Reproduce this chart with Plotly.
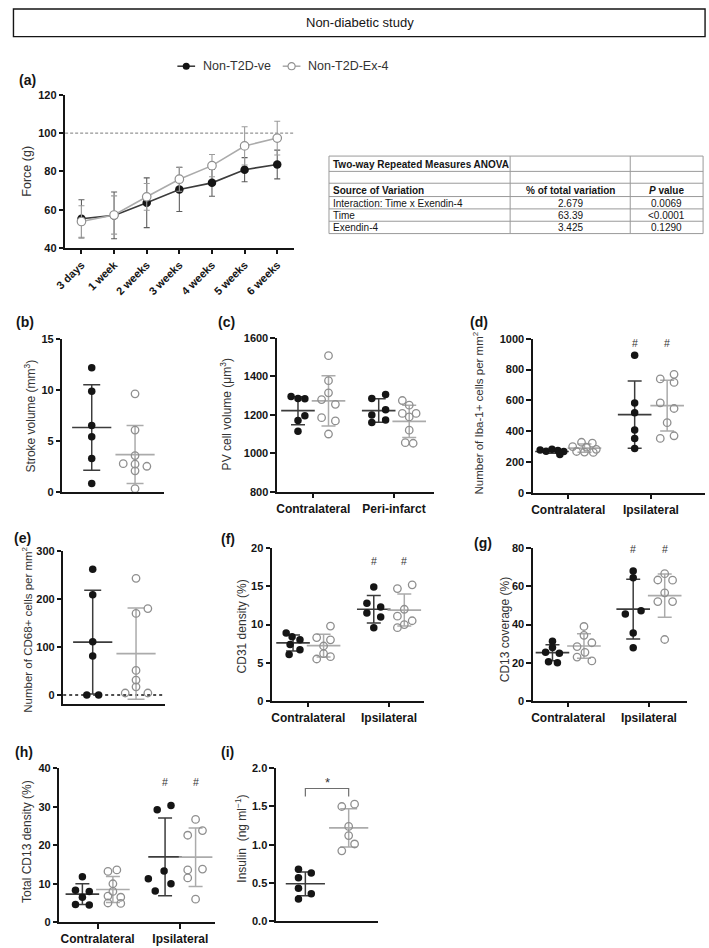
import plotly.graph_objects as go

W, H = 709, 948
FONT = "Arial, 'Liberation Sans', Helvetica, sans-serif"
BLACK = "#151515"
VE_LINE = "#3c3c3c"
EX_MK = "#8f8f8f"
EX_LINE = "#ababab"
TITLE_COL = "#333333"
GRID_COL = "#9a9a9a"

# ---------------- data ----------------
# (a) force over time
time_labels = ["3 days", "1 week", "2 weeks", "3 weeks", "4 weeks", "5 weeks", "6 weeks"]
force_ve_mean = [55.2, 57.0, 63.6, 70.5, 74.0, 80.9, 83.6]
force_ve_sd = [10.0, 12.2, 13.0, 11.5, 7.0, 6.3, 7.5]
force_ex_mean = [53.8, 57.2, 66.7, 75.9, 83.0, 93.3, 97.4]
force_ex_sd = [8.2, 10.0, 7.0, 6.3, 5.8, 10.0, 8.8]
force_baseline = 100
legend_names = ["Non-T2D-ve", "Non-T2D-Ex-4"]

# ANOVA table
anova_title = "Two-way Repeated Measures ANOVA"
anova_header = ["Source of Variation", "% of total variation", "<i>P</i> value"]
anova_source = ["Interaction: Time x Exendin-4", "Time", "Exendin-4"]
anova_pct = ["2.679", "63.39", "3.425"]
anova_p = ["0.0069", "<0.0001", "0.1290"]

# (b) stroke volume
stroke_ve = [12.15, 9.85, 6.5, 5.4, 3.25, 0.8]
stroke_ex = [9.6, 6.05, 3.55, 2.75, 2.7, 2.5, 2.05, 0.3]
stroke_mean = [6.3, 3.65]
stroke_sd = [4.2, 2.85]

# (c) PV cell volume
pv_ve_contra = [1295, 1285, 1283, 1195, 1170, 1115]
pv_ex_contra = [1507, 1377, 1314, 1279, 1254, 1185, 1168, 1100]
pv_ve_peri = [1305, 1285, 1226, 1199, 1173, 1160]
pv_ex_peri = [1274, 1250, 1207, 1207, 1189, 1120, 1055, 1052]
pv_ve_mean = [1221, 1222]
pv_ve_sd = [73, 61]
pv_ex_mean = [1272, 1166]
pv_ex_sd = [130, 84]

# (d) Iba-1+ cells
iba_ve_contra = [278, 270, 282, 275, 268, 248]
iba_ex_contra = [328, 322, 300, 296, 282, 268, 264, 262]
iba_ve_ipsi = [893, 583, 519, 408, 353, 288]
iba_ex_ipsi = [769, 739, 716, 583, 547, 455, 370, 353]
iba_ve_mean = [268, 507]
iba_ve_sd = [12, 218]
iba_ex_mean = [290, 566]
iba_ex_sd = [27, 165]

# (e) CD68+ cells
cd68_ve = [262, 209, 111, 81, 0, 0]
cd68_ex = [243, 180, 170, 51, 31, 17, 4, 4]
cd68_mean = [110, 86]
cd68_sd = [108, 95]

# (f) CD31 density
cd31_ve_contra = [8.9, 8.4, 8.0, 7.4, 6.7, 6.1]
cd31_ex_contra = [9.8, 8.3, 8.0, 7.2, 6.2, 5.8, 5.5]
cd31_ve_ipsi = [14.9, 12.8, 12.3, 11.5, 11.0, 9.6]
cd31_ex_ipsi = [15.2, 14.7, 12.0, 11.1, 10.5, 10.0, 9.6]
cd31_ve_mean = [7.6, 12.0]
cd31_ve_sd = [1.05, 1.8]
cd31_ex_mean = [7.25, 11.9]
cd31_ex_sd = [1.5, 2.1]

# (g) CD13 coverage
cov_ve_contra = [31.3, 28.0, 25.5, 25.0, 20.5, 20.0]
cov_ex_contra = [39.0, 34.4, 30.5, 28.5, 25.5, 23.0, 21.0]
cov_ve_ipsi = [68.0, 64.5, 47.2, 45.5, 35.6, 27.9]
cov_ex_ipsi = [66.6, 63.3, 63.2, 56.6, 52.0, 52.0, 32.2]
cov_ve_mean = [25.3, 48.1]
cov_ve_sd = [4.2, 15.6]
cov_ex_mean = [28.8, 55.1]
cov_ex_sd = [6.4, 11.3]

# (h) total CD13 density
tot_ve_contra = [11.8, 8.3, 8.0, 6.5, 4.6, 4.5]
tot_ex_contra = [13.6, 13.2, 10.0, 8.0, 6.8, 6.5, 5.0, 4.9]
tot_ve_ipsi = [30.3, 29.2, 13.3, 11.3, 10.0, 8.1]
tot_ex_ipsi = [26.7, 23.8, 22.6, 13.8, 13.6, 11.5, 6.0]
tot_ve_mean = [7.3, 17.0]
tot_ve_sd = [2.7, 10.1]
tot_ex_mean = [8.5, 16.9]
tot_ex_sd = [3.4, 7.6]

# (i) insulin
ins_ve = [0.68, 0.63, 0.57, 0.43, 0.36, 0.29]
ins_ex = [1.53, 1.50, 1.24, 1.12, 1.01, 0.92]
ins_mean = [0.49, 1.22]
ins_sd = [0.155, 0.25]


# ---------------- layout helpers (pixels -> paper) ----------------
def X(px):
    return min(1.0, max(0.0, px / W))


def Y(py):
    return min(1.0, max(0.0, 1 - py / H))


PANELS = {
    "a": dict(n=1, xpx=(55, 287), ypx=(90, 245), yr=(40, 120), dtick=20),
    "b": dict(n=2, xpx=(52, 155), ypx=(337, 492), yr=(0, 15), dtick=5, cx=(82, 126)),
    "c": dict(n=3, xpx=(270, 430), ypx=(336, 492), yr=(800, 1600), dtick=200, cx=(307, 389), off=15.5,
              cats=["Contralateral", "Peri-infarct"]),
    "d": dict(n=4, xpx=(530, 705), ypx=(337, 493), yr=(0, 1000), dtick=200, cx=(566, 650), off=16.5,
              cats=["Contralateral", "Ipsilateral"]),
    "e": dict(n=5, xpx=(53, 156), ypx=(552, 707), yr=(-19, 300), dtick=100, cx=(83, 127)),
    "f": dict(n=6, xpx=(265, 420), ypx=(549, 704), yr=(0, 20), dtick=5, cx=(302, 384), off=15.5,
              cats=["Contralateral", "Ipsilateral"]),
    "g": dict(n=7, xpx=(530, 687), ypx=(549, 704), yr=(0, 80), dtick=20, cx=(566, 648), off=16,
              cats=["Contralateral", "Ipsilateral"]),
    "h": dict(n=8, xpx=(49, 207), ypx=(772, 928), yr=(0, 40), dtick=10, cx=(88, 172), off=15.5,
              cats=["Contralateral", "Ipsilateral"]),
    "i": dict(n=9, xpx=(269, 373), ypx=(772, 927), yr=(0, 2.0), dtick=0.5, cx=(299, 343)),
}

# beeswarm-style horizontal offsets (px) for individual points
JIT = {
    "b": ([0, 0, 0, 0, 0, 0], [0, 0, 0, -12, 0, 12, 0, 0]),
    "c": ([-7, 0, 7, 7, 0, 0], [0, 0, 0, -7, 7, -7, 7, 0],
          [7, -7, 7, -7, 7, -7], [-7, 0, -7, 7, 0, 0, -4, 4]),
    "d": ([-12, -6, 0, 6, 12, 8], [-3, 8, -12, 2, 12, -8, 0, 9],
          [0, 0, 0, 0, 0, 0], [7, -7, 7, -7, 7, 0, 7, -7]),
    "e": ([0, 0, 0, 0, -6, 6], [0, 12, 0, 0, 0, 0, -11, 12]),
    "f": ([-7, -1, 7, -3, 7, -4], [7, -7, 7, 0, 0, 7, -7],
          [0, -7, 7, -7, 7, 0], [8, -7, 0, -7, 8, 0, -7]),
    "g": ([0, 0, -7, 7, -4, 5], [0, 0, 8, -7, 1, -7, 8],
          [0, 0, 8, -8, 0, 0], [0, -7, 8, 0, -7, 8, 0]),
    "h": ([0, -7, 7, 0, -7, 7], [4, -5, 0, 0, -5, 8, -5, 8],
          [6, -8, -1, -17, 6, -10], [0, 7, -8, 7, -8, -8, 0]),
    "i": ([-7, 6, -7, -7, 6, -7], [6, -7, 0, 0, 6, -7]),
}

fig = go.Figure()
layout = dict(
    width=W, height=H, margin=dict(l=0, r=0, t=0, b=0, pad=0),
    paper_bgcolor="white", plot_bgcolor="rgba(0,0,0,0)",
    font=dict(family=FONT, color=BLACK, size=12),
    showlegend=False,
)
annotations = []
shapes = []

TICKFONT = dict(family=FONT, size=11, color=BLACK, weight="bold")
CATFONT = dict(family=FONT, size=12, color=BLACK, weight="bold")
AX = dict(showline=True, linecolor=BLACK, linewidth=1.7, showgrid=False, zeroline=False,
          ticks="outside", ticklen=4.5, tickwidth=1.5, tickcolor=BLACK, tickfont=TICKFONT)


def refs(n):
    return ("x" if n == 1 else f"x{n}"), ("y" if n == 1 else f"y{n}")


def xrange_for(p):
    c1, c2 = p["cx"]
    unit = c2 - c1
    return [1 - (c1 - p["xpx"][0]) / unit, 2 + (p["xpx"][1] - c2) / unit], unit


for key, p in PANELS.items():
    n = p["n"]
    xr, yr_ = refs(n)
    xname = "xaxis" if n == 1 else f"xaxis{n}"
    yname = "yaxis" if n == 1 else f"yaxis{n}"
    ydict = dict(AX, domain=[Y(p["ypx"][1]), Y(p["ypx"][0])], anchor=xr, range=list(p["yr"]),
                 tickmode="linear", tick0=0, dtick=p["dtick"])
    if key == "i":
        ydict["tickformat"] = ".1f"
    if key == "a":
        xdict = dict(AX, domain=[X(p["xpx"][0]), X(p["xpx"][1])], anchor=yr_, type="category",
                     range=[-0.5, 6.5], tickangle=-45, tickfont=dict(TICKFONT, size=11))
    else:
        rng, unit = xrange_for(p)
        p["unit"] = unit
        xdict = dict(AX, domain=[X(p["xpx"][0]), X(p["xpx"][1])], anchor=yr_, range=rng)
        if "cats" in p:
            xdict.update(tickmode="array", tickvals=[1, 2], ticktext=p["cats"], tickfont=CATFONT)
        else:
            xdict.update(ticks="", showticklabels=False)
    layout[xname] = xdict
    layout[yname] = ydict

# ---------------- panel (a) ----------------
fig.add_trace(go.Scatter(
    x=time_labels, y=force_ve_mean, name=legend_names[0], mode="lines+markers",
    line=dict(color=VE_LINE, width=1.6),
    marker=dict(symbol="circle", size=8.5, color=BLACK, line=dict(width=0)),
    error_y=dict(type="data", array=force_ve_sd, color="#5e5e5e", thickness=1.1, width=3),
    xaxis="x", yaxis="y", cliponaxis=False))
fig.add_trace(go.Scatter(
    x=time_labels, y=force_ex_mean, name=legend_names[1], mode="lines+markers",
    line=dict(color=EX_LINE, width=1.6),
    marker=dict(symbol="circle", size=8.5, color="white", line=dict(width=1.2, color=EX_MK)),
    error_y=dict(type="data", array=force_ex_sd, color="#9c9c9c", thickness=1.1, width=3),
    xaxis="x", yaxis="y", cliponaxis=False))
shapes.append(dict(type="line", xref="x domain", yref="y", x0=0, x1=1, y0=force_baseline,
                   y1=force_baseline, line=dict(color="#7a7a7a", width=1, dash="3px,2px"), layer="below"))

# ---------------- legend (drawn) ----------------
LEG_Y = 61
for (lx, name, filled) in [(178, legend_names[0], True), (285, legend_names[1], False)]:
    shapes.append(dict(type="line", xref="paper", yref="paper", x0=X(lx - 9), x1=X(lx + 9),
                       y0=Y(LEG_Y), y1=Y(LEG_Y),
                       line=dict(color=VE_LINE if filled else EX_LINE, width=1.6)))
    r = 3.6
    shapes.append(dict(type="circle", xref="paper", yref="paper", x0=X(lx - r), x1=X(lx + r),
                       y0=Y(LEG_Y + r), y1=Y(LEG_Y - r),
                       fillcolor=BLACK if filled else "white",
                       line=dict(color=BLACK if filled else EX_MK, width=0 if filled else 1.1)))
    annotations.append(dict(x=X(lx + 15), y=Y(LEG_Y), xref="paper", yref="paper", text=name,
                            showarrow=False, xanchor="left", yanchor="middle",
                            font=dict(size=12.5, color=TITLE_COL)))

# ---------------- ANOVA table (drawn) ----------------
TX = [323, 507, 629, 703]
TY = [152, 167.5, 179.5, 193, 205.5, 218, 230.5]
for xv in TX:
    shapes.append(dict(type="line", xref="paper", yref="paper", x0=X(xv), x1=X(xv), y0=Y(TY[0]), y1=Y(TY[-1]),
                       line=dict(color=GRID_COL, width=1)))
for yv in TY:
    shapes.append(dict(type="line", xref="paper", yref="paper", x0=X(TX[0]), x1=X(TX[-1]), y0=Y(yv), y1=Y(yv),
                       line=dict(color=GRID_COL, width=1)))
rows = [[f"<b>{anova_title}</b>", "", ""], ["", "", ""],
        [f"<b>{h}</b>" for h in anova_header]] + \
       [[s, pct, pv.replace("<", "&lt;")] for s, pct, pv in zip(anova_source, anova_pct, anova_p)]
for ri, row in enumerate(rows):
    yc = (TY[ri] + TY[ri + 1]) / 2
    for ci, txt in enumerate(row):
        if not txt:
            continue
        if ci == 0:
            xa, anc = TX[0] + 2.5, "left"
        else:
            xa, anc = (TX[ci] + TX[ci + 1]) / 2, "center"
        annotations.append(dict(x=X(xa), y=Y(yc + 0.5), xref="paper", yref="paper", text=txt,
                                showarrow=False, xanchor=anc, yanchor="middle",
                                font=dict(size=10, color=BLACK)))


# ---------------- scatter helpers ----------------
def add_group(key, pos, vals, dxs, mean, sd, filled, mean_w=24, cap=7):
    p = PANELS[key]
    xr, yr_ = refs(p["n"])
    unit = p["unit"]
    lc = VE_LINE if filled else EX_LINE
    fig.add_trace(go.Scatter(
        x=[pos], y=[mean], mode="markers", hoverinfo="skip",
        marker=dict(symbol="line-ew", size=mean_w, color=lc, line=dict(width=1.7, color=lc)),
        error_y=dict(type="data", array=[sd], color=lc, thickness=1.5, width=cap),
        xaxis=xr, yaxis=yr_, cliponaxis=False))
    xs = [pos + d / unit for d in dxs]
    if filled:
        mk = dict(symbol="circle", size=7.5, color=BLACK, line=dict(width=0))
    else:
        mk = dict(symbol="circle-open", size=7.5, color=EX_MK, line=dict(width=1.3, color=EX_MK))
    fig.add_trace(go.Scatter(x=xs, y=vals, mode="markers", marker=mk,
                             xaxis=xr, yaxis=yr_, cliponaxis=False))


def two_group(key, ve, ex, means, sds):
    j = JIT[key]
    add_group(key, 1, ve, j[0], means[0], sds[0], True, mean_w=28, cap=8.5)
    add_group(key, 2, ex, j[1], means[1], sds[1], False, mean_w=28, cap=8.5)


def grouped(key, ve_c, ex_c, ve_i, ex_i, ve_m, ve_s, ex_m, ex_s):
    p = PANELS[key]
    o = p["off"] / p["unit"]
    j = JIT[key]
    add_group(key, 1 - o, ve_c, j[0], ve_m[0], ve_s[0], True)
    add_group(key, 1 + o, ex_c, j[1], ex_m[0], ex_s[0], False)
    add_group(key, 2 - o, ve_i, j[2], ve_m[1], ve_s[1], True)
    add_group(key, 2 + o, ex_i, j[3], ex_m[1], ex_s[1], False)
    return o


two_group("b", stroke_ve, stroke_ex, stroke_mean, stroke_sd)
grouped("c", pv_ve_contra, pv_ex_contra, pv_ve_peri, pv_ex_peri, pv_ve_mean, pv_ve_sd, pv_ex_mean, pv_ex_sd)
od = grouped("d", iba_ve_contra, iba_ex_contra, iba_ve_ipsi, iba_ex_ipsi, iba_ve_mean, iba_ve_sd, iba_ex_mean, iba_ex_sd)
two_group("e", cd68_ve, cd68_ex, cd68_mean, cd68_sd)
of = grouped("f", cd31_ve_contra, cd31_ex_contra, cd31_ve_ipsi, cd31_ex_ipsi, cd31_ve_mean, cd31_ve_sd, cd31_ex_mean, cd31_ex_sd)
og = grouped("g", cov_ve_contra, cov_ex_contra, cov_ve_ipsi, cov_ex_ipsi, cov_ve_mean, cov_ve_sd, cov_ex_mean, cov_ex_sd)
oh = grouped("h", tot_ve_contra, tot_ex_contra, tot_ve_ipsi, tot_ex_ipsi, tot_ve_mean, tot_ve_sd, tot_ex_mean, tot_ex_sd)
two_group("i", ins_ve, ins_ex, ins_mean, ins_sd)

# zero reference in (e)
shapes.append(dict(type="line", xref="x5 domain", yref="y5", x0=0, x1=1, y0=0, y1=0,
                   line=dict(color=BLACK, width=1.4, dash="dot"), layer="below"))

# "#" marks over ipsilateral groups
for key, o, yv in [("d", od, 975), ("f", of, 18.3), ("g", og, 79.5), ("h", oh, 36.3)]:
    xr, yr_ = refs(PANELS[key]["n"])
    for xv in (2 - o, 2 + o):
        annotations.append(dict(x=xv, y=yv, xref=xr, yref=yr_, text="#", showarrow=False,
                                font=dict(size=10.5, color=TITLE_COL), xanchor="center", yanchor="middle"))

# (i) bracket + star
shapes.append(dict(type="path", xref="x9", yref="y9", path="M 1,1.63 L 1,1.735 L 2,1.735 L 2,1.63",
                   line=dict(color="#6e6e6e", width=1.2)))
annotations.append(dict(x=1.5, y=1.81, xref="x9", yref="y9", text="*", showarrow=False,
                        font=dict(size=13, color=TITLE_COL), xanchor="center", yanchor="middle"))

# ---------------- title box, panel labels, axis titles ----------------
shapes.append(dict(type="rect", xref="paper", yref="paper", x0=X(2.5), x1=X(705), y0=Y(31), y1=Y(3),
                   line=dict(color=BLACK, width=1.4)))
annotations.append(dict(x=X(355), y=Y(17), xref="paper", yref="paper", text="Non-diabetic study",
                        showarrow=False, font=dict(size=13, color=BLACK),
                        xanchor="center", yanchor="middle"))

panel_labels = [("(a)", 17, 75), ("(b)", 14, 320), ("(c)", 219, 320), ("(d)", 475, 320),
                ("(e)", 12, 539), ("(f)", 220, 540), ("(g)", 479, 544), ("(h)", 13, 756), ("(i)", 220, 756)]
for t, xp, yp in panel_labels:
    annotations.append(dict(x=X(xp), y=Y(yp), xref="paper", yref="paper", text=f"<b>{t}</b>",
                            showarrow=False, font=dict(size=14, color=BLACK),
                            xanchor="center", yanchor="middle"))

y_titles = [("Force (g)", 16, 167, 12.5),
            ("Stroke volume (mm<sup>3</sup>)", 19, 415, 12),
            ("PV cell volume (μm<sup>3</sup>)", 218, 414, 12),
            ("Number of Iba-1+ cells per mm<sup>2</sup>", 474, 412, 11.5),
            ("Number of CD68+ cells per mm<sup>2</sup>", 16, 632, 11.5),
            ("CD31 density (%)", 235, 628, 12),
            ("CD13 coverage (%)", 502, 632, 12),
            ("Total CD13 density (%)", 17, 846, 12),
            ("Insulin  (ng ml<sup>−1</sup>)", 234, 843, 12)]
for t, xp, yp, fs in y_titles:
    annotations.append(dict(x=X(xp), y=Y(yp), xref="paper", yref="paper", text=t, textangle=-90,
                            showarrow=False, font=dict(size=fs, color=TITLE_COL),
                            xanchor="center", yanchor="middle"))

layout["annotations"] = annotations
layout["shapes"] = shapes
fig.update_layout(**layout)

RESET = ("var d=document.getElementById('{plot_id}');"
         "[document.documentElement, document.body].forEach(function(e){e.style.margin='0';e.style.padding='0';e.style.overflow='hidden';});"
         "var p=d; while(p && p!==document.body){p.style.margin='0';p.style.padding='0';p=p.parentElement;}"
         "window.scrollTo(0,0);")
fig.write_html("out.html", config={"displayModeBar": False}, post_script=RESET)
